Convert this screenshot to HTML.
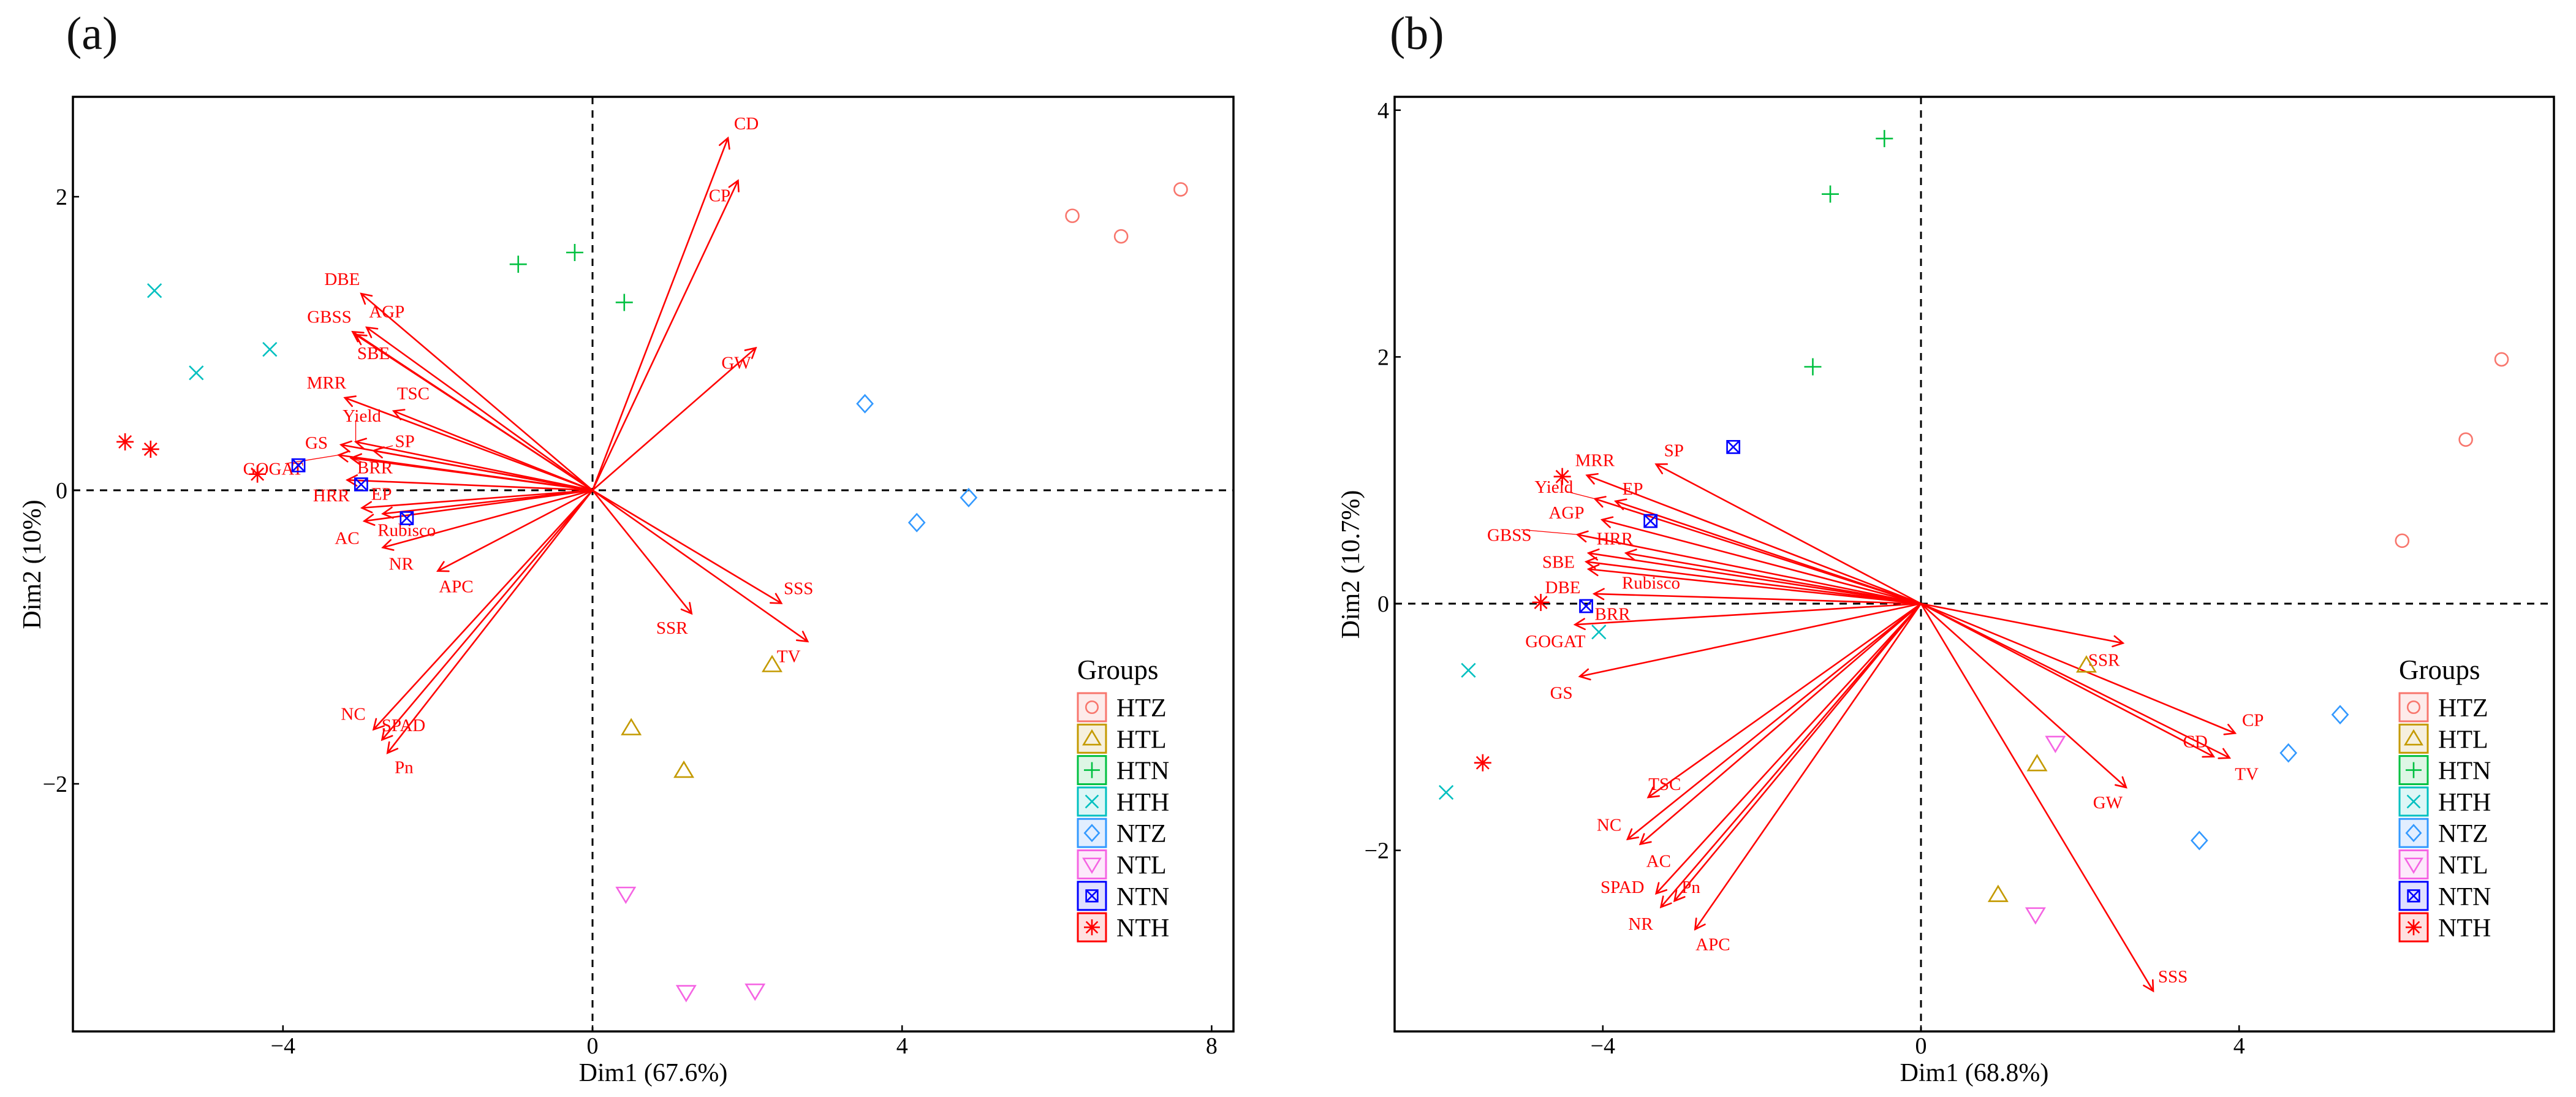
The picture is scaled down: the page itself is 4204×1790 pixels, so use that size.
<!DOCTYPE html>
<html><head><meta charset="utf-8"><style>
html,body{margin:0;padding:0;background:#fff;font-family:"Liberation Serif",serif}
svg{display:block}
svg text{font-family:"Liberation Serif","DejaVu Serif",serif}
</style></head><body>
<svg id="fig" xmlns="http://www.w3.org/2000/svg" width="4204" height="1790" viewBox="0 0 4204 1790" font-family="Liberation Serif, serif">
<rect width="4204" height="1790" fill="#fff"/>
</svg>
<script>
// ---- Panel (a) data ----
const groupNames = ["HTZ","HTL","HTN","HTH","NTZ","NTL","NTN","NTH"];
const aPointsX = [[6.20,6.83,7.60],[2.32,0.50,1.18],[-0.96,-0.23,0.41],[-5.66,-5.12,-4.17],[3.52,4.19,4.86],[0.43,1.21,2.10],[-3.80,-2.99,-2.40],[-6.04,-5.71,-4.33]];
const aPointsY = [[1.87,1.73,2.05],[-1.19,-1.62,-1.91],[1.54,1.62,1.28],[1.36,0.80,0.96],[0.59,-0.22,-0.05],[-2.75,-3.42,-3.41],[0.17,0.04,-0.19],[0.33,0.28,0.11]];
const aVarNames = ["CD","CP","GW","DBE","AGP","GBSS","SBE","MRR","TSC","Yield","GS","SP","GOGAT","BRR","HRR","EP","Rubisco","AC","NR","APC","NC","SPAD","Pn","SSS","SSR","TV"];
const aVarX = [1.75,1.88,2.11,-2.99,-2.92,-3.10,-3.06,-3.20,-2.57,-3.06,-3.25,-2.83,-3.28,-3.12,-3.17,-2.98,-2.71,-2.95,-2.71,-2.00,-2.83,-2.72,-2.65,2.44,1.28,2.78];
const aVarY = [2.40,2.11,0.97,1.34,1.11,1.08,1.06,0.63,0.54,0.33,0.31,0.27,0.24,0.22,0.07,-0.12,-0.16,-0.21,-0.39,-0.55,-1.63,-1.70,-1.79,-0.77,-0.84,-1.03];
const aXTicks = [-4,0,4,8];
const aYTicks = [-2,0,2];
// ---- Panel (b) data ----
const bPointsX = [[7.30,6.85,6.05],[2.08,1.46,0.97],[-0.46,-1.14,-1.36],[-4.05,-5.69,-5.97],[5.27,4.62,3.50],[1.69,1.44],[-2.36,-3.40,-4.21],[-4.51,-4.78,-5.51]];
const bPointsY = [[1.98,1.33,0.51],[-0.50,-1.30,-2.36],[3.77,3.32,1.92],[-0.23,-0.54,-1.53],[-0.90,-1.21,-1.92],[-1.13,-2.52],[1.27,0.67,-0.02],[1.03,0.01,-1.29]];
const bVarNames = ["SP","MRR","Yield","EP","AGP","GBSS","HRR","SBE","BRR","Rubisco","DBE","GOGAT","GS","TSC","NC","AC","SPAD","Pn","NR","APC","SSR","CP","CD","TV","GW","SSS"];
const bVarX = [-3.33,-4.20,-4.10,-3.84,-4.01,-4.32,-3.71,-4.18,-4.21,-4.18,-4.11,-4.35,-4.29,-3.43,-3.69,-3.53,-3.33,-3.10,-3.27,-2.84,2.54,3.95,3.68,3.88,2.58,2.92];
const bVarY = [1.13,1.04,0.85,0.83,0.68,0.56,0.41,0.41,0.34,0.28,0.08,-0.17,-0.59,-1.57,-1.91,-1.95,-2.35,-2.41,-2.46,-2.64,-0.32,-1.05,-1.24,-1.25,-1.49,-3.14];
const bXTicks = [-4,0,4];
const bYTicks = [-2,0,2,4];

// label offsets (px, styling)
const aLabOff = {CD:[30,-24],CP:[-30,24],GW:[-32,24],DBE:[-31,-24],AGP:[33,-26],GBSS:[-38,-25],SBE:[29,30],MRR:[-30,-25],TSC:[32,-29],Yield:[10,-43,1],GS:[-40,-4],SP:[51,-16,1],GOGAT:[-107,22,1],BRR:[39,15,1],HRR:[-26,25],EP:[32,-23],Rubisco:[39,26],AC:[-28,27],NR:[30,26],APC:[30,25],NC:[-33,-26],SPAD:[35,-24],Pn:[27,23],SSS:[28,-25],SSR:[-32,23],TV:[-31,24]};
const bLabOff = {SP:[29,-23],MRR:[13,-25],Yield:[-67,-20,1],EP:[28,-21],AGP:[-58,-12],GBSS:[-111,0,1],HRR:[-18,-24],SBE:[-49,14],BRR:[43,85],Rubisco:[102,22],DBE:[-51,-11],GOGAT:[-32,27],GS:[-30,26],TSC:[27,-22],NC:[-30,-24],AC:[30,27],SPAD:[-55,-11],Pn:[27,-23],NR:[-33,27],APC:[29,24],SSR:[-31,27],CP:[29,-22],CD:[-30,-25],TV:[28,26],GW:[-30,24],SSS:[32,-24]};

const colors = ["#F8766D","#C49A00","#00C040","#00C0C0","#3399FF","#F564E3","#0000FF","#FF0000"];
const fills = ["#FDEBEA","#F6F0DE","#DDF6E5","#DDF6F6","#E2EEFF","#FDE9FB","#E0E0FF","#FFE0E0"];
const FONT = "Liberation Serif, DejaVu Serif, serif";
const NS = "http://www.w3.org/2000/svg";
const svg = document.getElementById('fig');
function mk(tag, attrs, parent){const e=document.createElementNS(NS,tag);for(const k in attrs)e.setAttribute(k,attrs[k]);if(tag==='text')e.setAttribute('font-family',FONT);(parent||svg).appendChild(e);return e;}

function marker(g, gi, cx, cy, s, col){
  const sw=2.6; let e;
  const st={fill:"none",stroke:col,"stroke-width":sw};
  if(gi===0){e=mk('circle',Object.assign({cx:cx,cy:cy,r:s*0.75},st),g);}
  else if(gi===1){e=mk('polygon',Object.assign({points:`${cx},${cy-s} ${cx-s*1.05},${cy+s*0.75} ${cx+s*1.05},${cy+s*0.75}`},st),g);}
  else if(gi===2){e=mk('path',Object.assign({d:`M${cx-s} ${cy}H${cx+s}M${cx} ${cy-s}V${cy+s}`},st),g);}
  else if(gi===3){const d=s*0.8;e=mk('path',Object.assign({d:`M${cx-d} ${cy-d}L${cx+d} ${cy+d}M${cx-d} ${cy+d}L${cx+d} ${cy-d}`},st),g);}
  else if(gi===4){e=mk('polygon',Object.assign({points:`${cx},${cy-s} ${cx+s*0.9},${cy} ${cx},${cy+s} ${cx-s*0.9},${cy}`},st),g);}
  else if(gi===5){e=mk('polygon',Object.assign({points:`${cx},${cy+s} ${cx-s*1.05},${cy-s*0.75} ${cx+s*1.05},${cy-s*0.75}`},st),g);}
  else if(gi===6){const d=s*0.72;e=mk('path',Object.assign({d:`M${cx-d} ${cy-d}H${cx+d}V${cy+d}H${cx-d}ZM${cx-d} ${cy-d}L${cx+d} ${cy+d}M${cx-d} ${cy+d}L${cx+d} ${cy-d}`},st),g);}
  else {const d=s*0.72;e=mk('path',Object.assign({d:`M${cx-s} ${cy}H${cx+s}M${cx} ${cy-s}V${cy+s}M${cx-d} ${cy-d}L${cx+d} ${cy+d}M${cx-d} ${cy+d}L${cx+d} ${cy-d}`},st),g);}
  return e;
}

function panel(cfg){
  const P=mk('g',{});
  
  
  const X=v=>cfg.x0+cfg.sx*v, Y=v=>cfg.y0-cfg.sy*v;
  const t=mk('text',{x:cfg.letterX,y:80,"font-size":76,fill:"#111"},P);t.textContent=cfg.letter;
  
  
  const dl=mk('g',{stroke:"#000","stroke-width":3,"stroke-dasharray":"12 10"},P);
  
  
  mk('line',{x1:cfg.L,x2:cfg.R,y1:Y(0),y2:Y(0)},dl);
  mk('line',{x1:X(0),x2:X(0),y1:cfg.T,y2:cfg.B},dl);
  const ag=mk('g',{stroke:"#FF0000","stroke-width":2.6,fill:"none","stroke-linecap":"round"},P);
  
  
  const tg=mk('g',{fill:"#FF0000","font-size":29,"text-anchor":"middle"},P);
  
  
  cfg.vn.forEach((n,i)=>{
    const x1=X(0),y1=Y(0),x2=X(cfg.vx[i]),y2=Y(cfg.vy[i]);
    const a=Math.atan2(y2-y1,x2-x1),h=18,w=0.5;
    const p=mk('path',{d:`M${x1} ${y1}L${x2} ${y2}M${x2-h*Math.cos(a-w)} ${y2-h*Math.sin(a-w)}L${x2} ${y2}L${x2-h*Math.cos(a+w)} ${y2-h*Math.sin(a+w)}`},ag);
    
    
    const o=cfg.off[n]||[25,-25];
    const lx=x2+o[0],ly=y2+o[1];
    if(o[2]){const ll=mk('line',{x1:x2,y1:y2,x2:lx+(o[0]>0?-Math.min(20,o[0]):20),y2:ly+(o[1]<0?8:-8),"stroke-width":1.3},ag);
      
      }
    const tx=mk('text',{x:lx,y:ly+10},tg);tx.textContent=n;
    
    
  });
  const pg=mk('g',{},P);
  
  
  cfg.px.forEach((arr,gi)=>arr.forEach((v,j)=>{
    const m=marker(pg,gi,X(v),Y(cfg.py[gi][j]),14,colors[gi]);
    
    
  }));
  const fr=mk('rect',{x:cfg.L,y:cfg.T,width:cfg.R-cfg.L,height:cfg.B-cfg.T,fill:"none",stroke:"#000","stroke-width":3.5},P);
  
  
  const kg=mk('g',{stroke:"#000","stroke-width":2.5},P);
  
  
  const lg=mk('g',{fill:"#000","font-size":38},P);
  
  
  cfg.xt.forEach(v=>{mk('line',{x1:X(v),x2:X(v),y1:cfg.B,y2:cfg.B-10},kg);
    const t=mk('text',{x:X(v),y:cfg.B+36,"text-anchor":"middle"},lg);t.textContent=v<0?'\u2212'+(-v):String(v);
    
    });
  cfg.yt.forEach(v=>{mk('line',{x1:cfg.L,x2:cfg.L+10,y1:Y(v),y2:Y(v)},kg);
    const t=mk('text',{x:cfg.L-9,y:Y(v)+13,"text-anchor":"end"},lg);t.textContent=v<0?'\u2212'+(-v):String(v);
    
    });
  const xt=mk('text',{x:cfg.xtX,y:1764,"font-size":42,"text-anchor":"middle",fill:"#000"},P);xt.textContent=cfg.xlab;
  
  
  const yt=mk('text',{x:0,y:0,"font-size":42,"text-anchor":"middle",fill:"#000",transform:`translate(${cfg.ytX},921) rotate(-90)`},P);yt.textContent=cfg.ylab;
  
  
  const L=mk('g',{},P);
  
  
  const gt=mk('text',{x:cfg.legX,y:1108,"font-size":45,fill:"#000"},L);gt.textContent="Groups";
  
  
  groupNames.forEach((n,gi)=>{
    const cy=1154+gi*51.3;
    const e=mk('g',{},L);
    
    
    mk('rect',{x:cfg.legX+1,y:cy-23,width:46,height:46,fill:fills[gi],stroke:colors[gi],"stroke-width":3},e);
    marker(e,gi,cfg.legX+24,cy,13,colors[gi]);
    const t=mk('text',{x:cfg.legX+64,y:cy+15,"font-size":42,fill:"#000"},e);t.textContent=n;
  });
}

panel({id:"a",letter:"(a)",letterX:108,L:119,R:2013,T:158,B:1683,x0:967,sx:126.3,y0:800,sy:239.5,
  px:aPointsX,py:aPointsY,vn:aVarNames,vx:aVarX,vy:aVarY,off:aLabOff,xt:aXTicks,yt:aYTicks,
  xlab:"Dim1 (67.6%)",ylab:"Dim2 (10%)",xtX:1066,ytX:66,legX:1758});
panel({id:"b",letter:"(b)",letterX:2268,L:2276,R:4168,T:158,B:1683,x0:3135,sx:129.8,y0:985,sy:201.3,
  px:bPointsX,py:bPointsY,vn:bVarNames,vx:bVarX,vy:bVarY,off:bLabOff,xt:bXTicks,yt:bYTicks,
  xlab:"Dim1 (68.8%)",ylab:"Dim2 (10.7%)",xtX:3222,ytX:2218,legX:3915});
</script>
</body></html>
